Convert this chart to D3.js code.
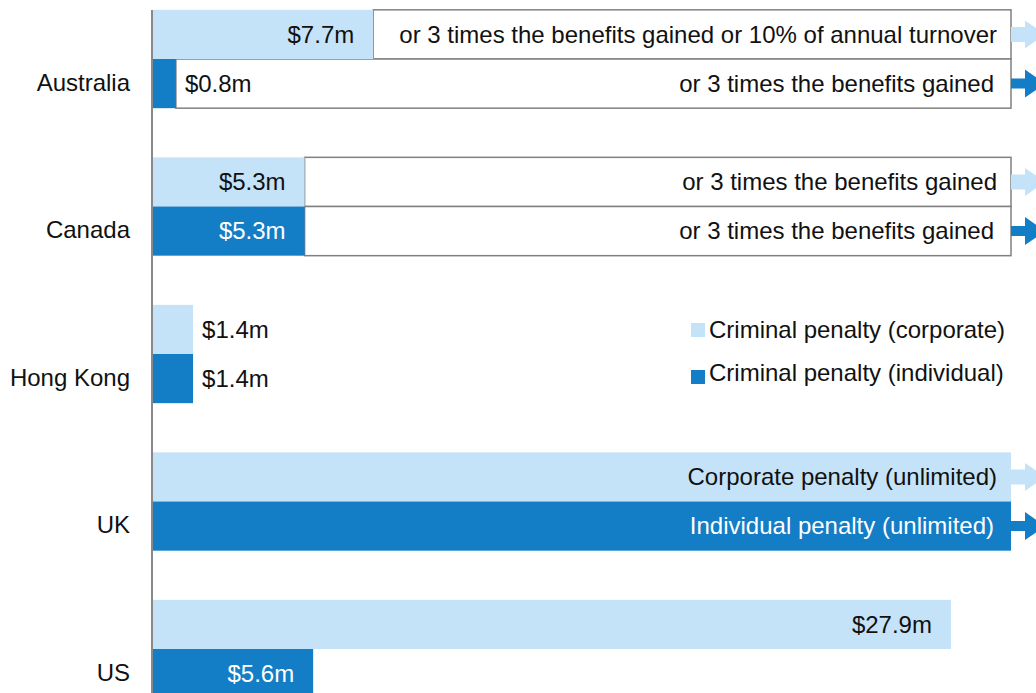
<!DOCTYPE html>
<html>
<head>
<meta charset="utf-8">
<script src="https://cdn.jsdelivr.net/npm/d3@7"></script>
<style>
  body { margin: 0; background: #fff; }
  svg text { font-family: "Liberation Sans", Arial, sans-serif; }
</style>
</head>
<body>
<div id="chart"></div>
<script>
// data, values in $m
const categories = ["Australia", "Canada", "Hong Kong", "UK", "US"];
const corporate = [7.7, 5.3, 1.4, null, 27.9];
const individual = [0.8, 5.3, 1.4, null, 5.6];
// extra wording that sits after the fixed amount
const corporateNote = ["or 3 times the benefits gained or 10% of annual turnover", "or 3 times the benefits gained", "", "Corporate penalty (unlimited)", ""];
const individualNote = ["or 3 times the benefits gained", "or 3 times the benefits gained", "", "Individual penalty (unlimited)", ""];
const seriesNames = ["Criminal penalty (corporate)", "Criminal penalty (individual)"];
const xMax = 30;

const width = 1036, height = 693;
const light = "#c5e3f8", dark = "#137dc6";
const fs = 24;

const svg = d3.select("#chart").append("svg")
  .attr("width", width).attr("height", height);

// x scale, the unlimited ones run to the end of the axis
const x = d3.scaleLinear().domain([0, xMax]).range([153, 1011]);

// outer band per country, chart runs off the bottom of the picture
const y = d3.scaleBand().domain(categories)
  .range([-14.75, 722.75]).paddingInner(1 / 3).paddingOuter(1 / 6);
const ySub = d3.scaleBand().domain(["corp", "ind"]).range([0, y.bandwidth()]);
const bh = ySub.bandwidth();

// build one row per bar
const rows = [];
categories.forEach((c, i) => {
  rows.push({ cat: c, key: "corp", v: corporate[i], note: corporateNote[i], fill: light, txt: "#111" });
  rows.push({ cat: c, key: "ind", v: individual[i], note: individualNote[i], fill: dark, txt: "#fff" });
});
rows.forEach(d => {
  d.y0 = y(d.cat) + ySub(d.key);
  d.unlimited = d.v == null;
  d.x1 = d.unlimited ? x(xMax) : x(d.v);
});

const g = svg.append("g");

// white boxes for the "or ..." extension
g.selectAll("rect.box")
  .data(rows.filter(d => d.note && !d.unlimited))
  .enter().append("rect")
  .attr("class", "box")
  .attr("x", d => d.x1)
  .attr("y", d => d.y0)
  .attr("width", d => x(xMax) - d.x1)
  .attr("height", bh)
  .attr("fill", "#fff")
  .attr("stroke", "#808080")
  .attr("stroke-width", 1.5);

// bars
g.selectAll("rect.bar")
  .data(rows)
  .enter().append("rect")
  .attr("class", "bar")
  .attr("x", x(0))
  .attr("y", d => d.y0)
  .attr("width", d => d.x1 - x(0))
  .attr("height", bh)
  .attr("fill", d => d.fill);

// arrows on the open ended rows
const arrowRows = rows.filter(d => d.note);
g.selectAll("path.arrow")
  .data(arrowRows)
  .enter().append("path")
  .attr("class", "arrow")
  .attr("fill", d => d.fill)
  .attr("d", d => {
    const cy = d.y0 + bh / 2;
    const x0 = x(xMax), xh = x(xMax) + 14, xt = x(xMax) + 34;
    const s = d.key == "corp" ? 7.5 : 5, h = 14;
    return `M${x0},${cy - s}H${xh}V${cy - h}L${xt},${cy}L${xh},${cy + h}V${cy + s}H${x0}Z`;
  });

// value labels, small ones go outside the bar
g.selectAll("text.val")
  .data(rows.filter(d => !d.unlimited))
  .enter().append("text")
  .attr("class", "val")
  .attr("font-size", fs)
  .attr("dy", "0.35em")
  .attr("y", d => d.y0 + bh / 2)
  .attr("x", d => d.v < 2 ? d.x1 + 9 : d.x1 - 19)
  .attr("text-anchor", d => d.v < 2 ? "start" : "end")
  .attr("fill", d => d.v < 2 ? "#111" : d.txt)
  .text(d => "$" + d3.format(".1f")(d.v) + "m");

// notes, right aligned at the end of the box
g.selectAll("text.note")
  .data(rows.filter(d => d.note))
  .enter().append("text")
  .attr("class", "note")
  .attr("font-size", fs)
  .attr("dy", "0.35em")
  .attr("y", d => d.y0 + bh / 2)
  .attr("x", d => x(xMax) - (d.key == "corp" ? 14 : 17))
  .attr("text-anchor", "end")
  .attr("fill", d => d.unlimited ? d.txt : "#111")
  .text(d => d.note);

// axis line, no ticks
svg.append("line")
  .attr("x1", 152).attr("x2", 152)
  .attr("y1", 10).attr("y2", height)
  .attr("stroke", "#888").attr("stroke-width", 2);

// category labels, they sit level with the second bar
svg.selectAll("text.cat")
  .data(categories)
  .enter().append("text")
  .attr("class", "cat")
  .attr("font-size", fs)
  .attr("text-anchor", "end")
  .attr("dy", "0.35em")
  .attr("x", 130)
  .attr("y", d => y(d) + ySub("ind") + bh / 2 - 1)
  .attr("fill", "#111")
  .text(d => d);

// legend
const leg = svg.append("g").attr("transform", "translate(691,330)");
const li = leg.selectAll("g").data(seriesNames).enter().append("g")
  .attr("transform", (d, i) => `translate(0,${i * 43})`);
li.append("rect").attr("y", (d, i) => i == 0 ? -7 : -3).attr("width", 14).attr("height", 14)
  .attr("fill", (d, i) => i == 0 ? light : dark);
li.append("text").attr("x", 18).attr("dy", "0.35em")
  .attr("font-size", fs).attr("fill", "#111")
  .text(d => d);
</script>
</body>
</html>
